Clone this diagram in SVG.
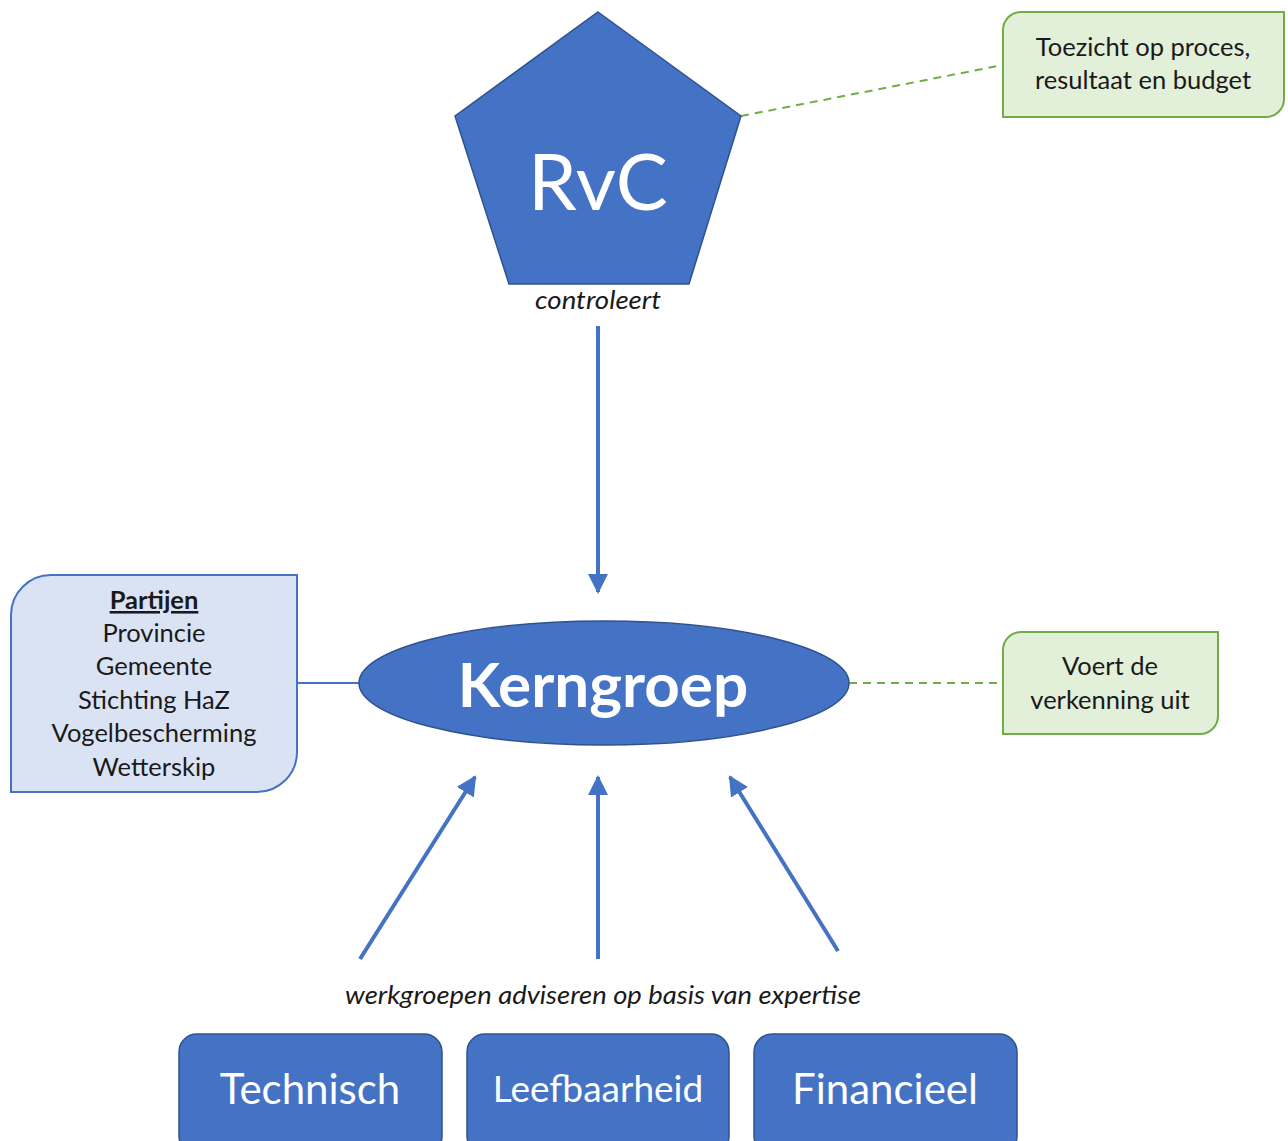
<svg xmlns="http://www.w3.org/2000/svg" width="1288" height="1141" viewBox="0 0 1288 1141">
<defs>
<style>
text{font-family:Lato,"Open Sans","Liberation Sans",sans-serif;text-anchor:middle}
.blue{fill:#4472c4;stroke:#2f528f;stroke-width:1.5}
.green{fill:#e2efd9;stroke:#70ad47;stroke-width:2}
.lblue{fill:#dae3f3;stroke:#4472c4;stroke-width:2}
.dark{fill:#1a1a1a;font-size:25.5px}
.white{fill:#ffffff}
.conn{stroke:#4472c4;stroke-width:4;fill:none}
.dash{stroke:#70ad47;stroke-width:2;stroke-dasharray:8,6;fill:none}
.it{font-family:Lato,"Open Sans",sans-serif;font-style:italic;fill:#1a1a1a}
</style>
<marker id="ah" viewBox="0 0 10 10" refX="9" refY="5" markerWidth="5" markerHeight="5" orient="auto" markerUnits="strokeWidth">
<path d="M0,0 L10,5 L0,10 z" fill="#4472c4"/>
</marker>
</defs>
<rect width="1288" height="1141" fill="#ffffff"/>
<g id="connectors">
<line class="dash" x1="741" y1="116" x2="1003" y2="65"/>
<line class="dash" x1="849" y1="683" x2="1003" y2="683"/>
<line stroke="#4472c4" stroke-width="2" x1="297" y1="683" x2="360" y2="683"/>
<line class="conn" x1="598" y1="326" x2="598" y2="592" marker-end="url(#ah)"/>
<line class="conn" x1="360" y1="959" x2="475" y2="777" marker-end="url(#ah)"/>
<line class="conn" x1="598" y1="959" x2="598" y2="777" marker-end="url(#ah)"/>
<line class="conn" x1="838" y1="951" x2="730" y2="777" marker-end="url(#ah)"/>
<text class="it" x="598" y="309" font-size="25" textLength="126" lengthAdjust="spacingAndGlyphs">controleert</text>
<text class="it" x="603" y="1004" font-size="25" textLength="516" lengthAdjust="spacingAndGlyphs">werkgroepen adviseren op basis van expertise</text>
</g>
<g id="rvc">
<polygon class="blue" points="598,12 741,116 689,284 509,284 455,116"/>
<text class="white" x="598" y="210" font-size="78">RvC</text>
</g>
<g id="toezicht">
<path class="green" d="M1021,12 H1284 V99 A18,18 0 0 1 1266,117 H1003 V30 A18,18 0 0 1 1021,12 Z"/>
<text class="dark" x="1143" y="56">Toezicht op proces,</text>
<text class="dark" x="1143" y="89">resultaat en budget</text>
</g>
<g id="partijen">
<path class="lblue" d="M51,575 H297 V752 A40,40 0 0 1 257,792 H11 V615 A40,40 0 0 1 51,575 Z"/>
<text class="dark" x="154" y="609" font-weight="bold" text-decoration="underline">Partijen</text>
<text class="dark" x="154" y="642">Provincie</text>
<text class="dark" x="154" y="675">Gemeente</text>
<text class="dark" x="154" y="709">Stichting HaZ</text>
<text class="dark" x="154" y="742">Vogelbescherming</text>
<text class="dark" x="154" y="776">Wetterskip</text>
</g>
<g id="kerngroep">
<ellipse class="blue" cx="604" cy="683" rx="245" ry="62"/>
<text class="white" x="603" y="707" font-size="62" font-weight="bold">Kerngroep</text>
</g>
<g id="voert">
<path class="green" d="M1021,632 H1218 V716 A18,18 0 0 1 1200,734 H1003 V650 A18,18 0 0 1 1021,632 Z"/>
<text class="dark" x="1110" y="675">Voert de</text>
<text class="dark" x="1110" y="709">verkenning uit</text>
</g>
<g id="technisch">
<rect class="blue" x="179" y="1034" width="263" height="120" rx="18"/>
<text class="white" x="310" y="1104" font-size="42">Technisch</text>
</g>
<g id="leefbaarheid">
<rect class="blue" x="467" y="1034" width="262" height="120" rx="18"/>
<text class="white" x="598" y="1102" font-size="37">Leefbaarheid</text>
</g>
<g id="financieel">
<rect class="blue" x="754" y="1034" width="263" height="120" rx="18"/>
<text class="white" x="885" y="1104" font-size="42">Financieel</text>
</g>
</svg>
